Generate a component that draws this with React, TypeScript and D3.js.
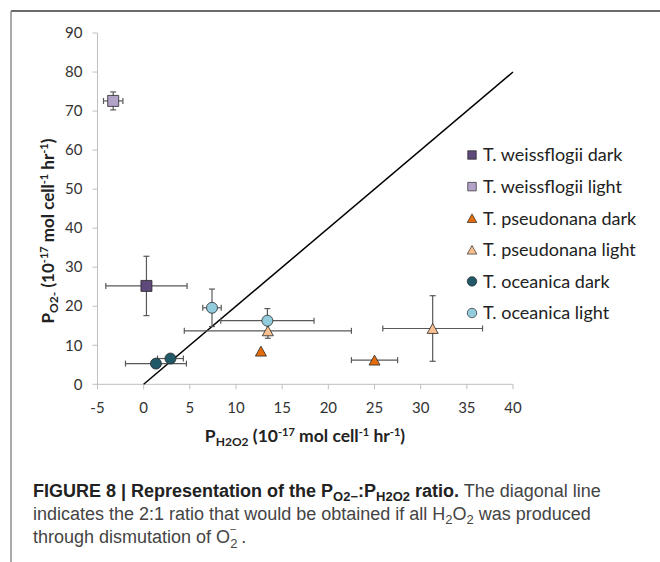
import React, { useEffect } from "react";
import * as d3 from "d3";

// legend / series
const seriesNames = [
  "T. weissflogii dark",
  "T. weissflogii light",
  "T. pseudonana dark",
  "T. pseudonana light",
  "T. oceanica dark",
  "T. oceanica light",
];
const seriesShapes = ["square", "square", "triangle", "triangle", "circle", "circle"];
const seriesColors = ["#5f497a", "#b3a2c7", "#e46c0a", "#fac090", "#215968", "#93cddd"];

// one entry per plotted point
const pointSeries = [0, 1, 2, 2, 3, 3, 4, 4, 5, 5];
const pH2O2 = [0.3, -3.3, 12.7, 25.0, 13.45, 31.3, 1.33, 2.9, 7.4, 13.4];
const pO2 = [25.2, 72.6, 8.5, 6.2, 13.7, 14.3, 5.3, 6.6, 19.6, 16.3];
const pH2O2Err = [4.4, 1.05, 0, 2.5, 9.05, 5.4, 3.3, 1.4, 1.0, 5.05];
const pO2Err = [7.6, 2.3, 0, 0, 1.9, 8.4, 0, 0, 4.8, 3.1];

const xTicks = [-5, 0, 5, 10, 15, 20, 25, 30, 35, 40];
const yTicks = [0, 10, 20, 30, 40, 50, 60, 70, 80, 90];

// 2:1 reference line
const ratioLine = [
  [0, 0],
  [40, 80],
];

const chartFont = "Lato, 'Open Sans', sans-serif";
const captionFont = "'Liberation Sans', Arial, sans-serif";

const marker = (shape: string, size: number) => {
  if (shape === "square") {
    return `M${-size / 2},${-size / 2}h${size}v${size}h${-size}Z`;
  }
  if (shape === "triangle") {
    const w = size, h = size * 0.9;
    return `M0,${-h / 2}L${w / 2},${h / 2}L${-w / 2},${h / 2}Z`;
  }
  const r = size / 2;
  return `M${-r},0a${r},${r} 0 1,0 ${2 * r},0a${r},${r} 0 1,0 ${-2 * r},0Z`;
};

export default function App() {
  useEffect(() => {
    document.body.style.margin = "0";
  }, []);

  const x = d3.scaleLinear().domain([-5, 40]).range([97.5, 513]);
  const y = d3.scaleLinear().domain([0, 90]).range([384.3, 33]);
  const line = d3.line<number[]>().x(d => x(d[0])).y(d => y(d[1]));
  const axisColor = "#bfbfbf";
  const errColor = "#595959";
  const cap = 3;

  return (
    <svg width={660} height={562} style={{ position: "absolute", left: 0, top: 0, background: "#fff" }}>
      {/* panel frame */}
      <line x1={11} y1={11} x2={660} y2={11} stroke="#3a3a3a" strokeWidth={1.5} />
      <line x1={11} y1={11} x2={11} y2={562} stroke="#8c8c8c" strokeWidth={1.5} />

      {/* axes */}
      <g stroke={axisColor} strokeWidth={1}>
        <line x1={x(-5)} x2={x(-5)} y1={y(0)} y2={y(90)} />
        <line x1={x(-5)} x2={x(40)} y1={y(0)} y2={y(0)} />
        {yTicks.map(t => (
          <line key={"yt" + t} x1={x(-5) - 5} x2={x(-5)} y1={y(t)} y2={y(t)} />
        ))}
        {xTicks.map(t => (
          <line key={"xt" + t} x1={x(t)} x2={x(t)} y1={y(0)} y2={y(0) + 5} />
        ))}
      </g>
      <g fontFamily={chartFont} fontSize={15} fill="#333">
        {yTicks.map(t => (
          <text key={"yl" + t} x={x(-5) - 15} y={y(t)} dy="0.35em" textAnchor="end">
            {t}
          </text>
        ))}
        {xTicks.map(t => (
          <text key={"xl" + t} x={x(t)} y={408} dy="0.35em" textAnchor="middle">
            {t}
          </text>
        ))}
      </g>

      {/* axis titles */}
      <text x={305} y={442} textAnchor="middle" fontFamily={chartFont} fontWeight="bold" fontSize={17.5} fill="#222">
        P<tspan fontSize={12} dy={4}>H2O2</tspan>
        <tspan dy={-4}> (10</tspan>
        <tspan fontSize={11} dy={-6}>-17</tspan>
        <tspan dy={6}> mol cell</tspan>
        <tspan fontSize={11} dy={-6}>-1</tspan>
        <tspan dy={6}> hr</tspan>
        <tspan fontSize={11} dy={-6}>-1</tspan>
        <tspan dy={6}>)</tspan>
      </text>
      <text
        transform="translate(54,231) rotate(-90)"
        textAnchor="middle"
        fontFamily={chartFont}
        fontWeight="bold"
        fontSize={17}
        fill="#222"
      >
        P<tspan fontSize={12} dy={4}>O2-</tspan>
        <tspan dy={-4}> (10</tspan>
        <tspan fontSize={11} dy={-6}>-17</tspan>
        <tspan dy={6}> mol cell</tspan>
        <tspan fontSize={11} dy={-6}>-1</tspan>
        <tspan dy={6}> hr</tspan>
        <tspan fontSize={11} dy={-6}>-1</tspan>
        <tspan dy={6}>)</tspan>
      </text>

      {/* 2:1 line */}
      <path d={line(ratioLine) || ""} stroke="#000" strokeWidth={1.5} fill="none" />

      {/* error bars */}
      <g stroke={errColor} strokeWidth={1.2}>
        {pH2O2.map((px, i) => {
          const cx = x(px), cy = y(pO2[i]);
          const ex = pH2O2Err[i], ey = pO2Err[i];
          return (
            <g key={"e" + i}>
              {ex > 0 && (
                <>
                  <line x1={x(px - ex)} x2={x(px + ex)} y1={cy} y2={cy} />
                  <line x1={x(px - ex)} x2={x(px - ex)} y1={cy - cap} y2={cy + cap} />
                  <line x1={x(px + ex)} x2={x(px + ex)} y1={cy - cap} y2={cy + cap} />
                </>
              )}
              {ey > 0 && (
                <>
                  <line x1={cx} x2={cx} y1={y(pO2[i] - ey)} y2={y(pO2[i] + ey)} />
                  <line x1={cx - cap} x2={cx + cap} y1={y(pO2[i] - ey)} y2={y(pO2[i] - ey)} />
                  <line x1={cx - cap} x2={cx + cap} y1={y(pO2[i] + ey)} y2={y(pO2[i] + ey)} />
                </>
              )}
            </g>
          );
        })}
      </g>

      {/* points */}
      {pH2O2.map((px, i) => {
        const s = pointSeries[i];
        return (
          <path
            key={"p" + i}
            transform={`translate(${x(px)},${y(pO2[i])})`}
            d={marker(seriesShapes[s], 11)}
            fill={seriesColors[s]}
            stroke="#262626"
            strokeWidth={0.8}
          />
        );
      })}

      {/* legend */}
      <g fontFamily={chartFont} fontSize={18} fill="#222">
        {seriesNames.map((name, i) => {
          const ly = 155 + i * 31.6;
          return (
            <g key={name}>
              <path
                transform={`translate(472,${ly})`}
                d={marker(seriesShapes[i], seriesShapes[i] === "square" ? 8.5 : 9.5)}
                fill={seriesColors[i]}
                stroke="#262626"
                strokeWidth={0.7}
              />
              <text x={483} y={ly} dy="0.35em">
                {name}
              </text>
            </g>
          );
        })}
      </g>

      {/* caption */}
      <g fontFamily={captionFont} fontSize={18}>
        <text x={33} y={497} fill="#222">
          <tspan fontWeight="bold">FIGURE 8 | Representation of the P</tspan>
          <tspan fontWeight="bold" fontSize={13} dy={4}>O2−</tspan>
          <tspan fontWeight="bold" dy={-4}>:P</tspan>
          <tspan fontWeight="bold" fontSize={13} dy={4}>H2O2</tspan>
          <tspan fontWeight="bold" dy={-4}> ratio.</tspan>
          <tspan fill="#444"> The diagonal line</tspan>
        </text>
        <text x={33} y={520} fill="#444">
          indicates the 2:1 ratio that would be obtained if all H
          <tspan fontSize={13} dy={4}>2</tspan>
          <tspan dy={-4}>O</tspan>
          <tspan fontSize={13} dy={4}>2</tspan>
          <tspan dy={-4}> was produced</tspan>
        </text>
        <text x={33} y={543} fill="#444">
          through dismutation of O
          <tspan fontSize={13} dy={5}>2</tspan>
          <tspan fontSize={11} dx={-7.5} dy={-15}>−</tspan>
          <tspan dy={10}> .</tspan>
        </text>
      </g>
    </svg>
  );
}
